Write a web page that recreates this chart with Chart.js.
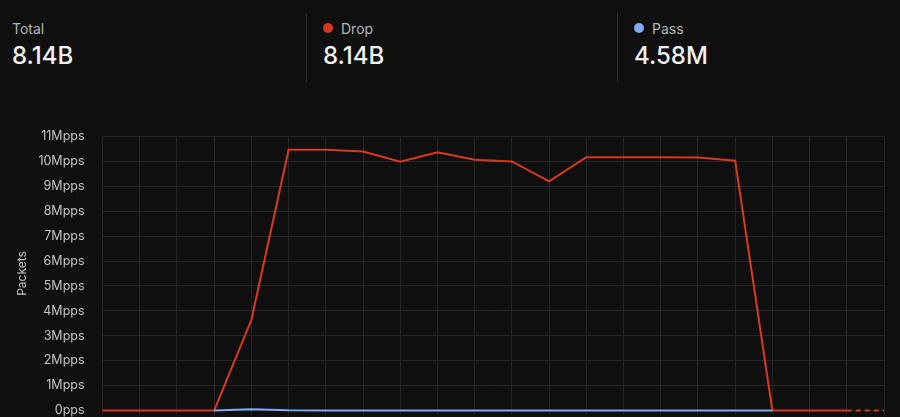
<!DOCTYPE html>
<html>
<head>
<meta charset="utf-8">
<script src="https://cdn.jsdelivr.net/npm/chart.js@4/dist/chart.umd.min.js"></script>
<style>
  html, body { margin: 0; padding: 0; background: #0f0f10; width: 900px; height: 417px; overflow: hidden; font-family: Inter, sans-serif; }
  .stat { position: absolute; top: 13px; height: 69px; }
  .stat .label { position: absolute; top: 7px; font-size: 14px; color: #b5b5b5; white-space: nowrap; }
  .stat .value { position: absolute; top: 31px; font-size: 24px; line-height: 1; font-weight: 500; color: #f2f2f2; white-space: nowrap; }
  .dot { position: absolute; top: 10px; width: 10px; height: 10px; border-radius: 50%; }
  .sep { position: absolute; top: 13px; width: 1px; height: 69px; background: #2c2c2e; }
  #wrap { position: absolute; left: 0; top: 129px; width: 900px; height: 289px; }
</style>
</head>
<body>
<div class="stat" style="left:12px"><div class="label" style="left:0">Total</div><div class="value" style="left:0">8.14B</div></div>
<div class="sep" style="left:306px"></div>
<div class="stat" style="left:323px"><div class="dot" style="left:0;background:#d8391e"></div><div class="label" style="left:18px">Drop</div><div class="value" style="left:0">8.14B</div></div>
<div class="sep" style="left:617px"></div>
<div class="stat" style="left:634px"><div class="dot" style="left:0;background:#7eaaf6"></div><div class="label" style="left:18px">Pass</div><div class="value" style="left:0">4.58M</div></div>
<div id="wrap"><canvas id="chart"></canvas></div>
<script>
// time buckets (no visible labels in the original)
const buckets = ['t0','t1','t2','t3','t4','t5','t6','t7','t8','t9','t10','t11','t12','t13','t14','t15','t16','t17','t18','t19','t20','t21'];
// packets per second
const dropPps = [0, 0, 0, 0, 3.64e6, 10.47e6, 10.47e6, 10.4e6, 9.99e6, 10.37e6, 10.07e6, 10.0e6, 9.2e6, 10.17e6, 10.17e6, 10.17e6, 10.16e6, 10.03e6, 0, 0, 0, 0];
const passPps = [null, null, null, 0, 0.05e6, 0.01e6, 0.005e6, 0.005e6, 0.005e6, 0.005e6, 0.005e6, 0.005e6, 0.005e6, 0.005e6, 0.005e6, 0.005e6, 0.005e6, 0.005e6, 0, null, null, null];
const yMax = 11e6;

const dashedFrom = buckets.length - 2;

new Chart(document.getElementById('chart'), {
  type: 'line',
  data: {
    labels: buckets,
    datasets: [
      {
        label: 'Pass',
        data: passPps,
        borderColor: '#7eaaf6',
        borderWidth: 2,
        pointRadius: 0,
        tension: 0,
        clip: false,
        order: 1
      },
      {
        label: 'Drop',
        data: dropPps,
        borderColor: '#d8391e',
        borderWidth: 2,
        pointRadius: 0,
        tension: 0,
        clip: false,
        order: 2,
        segment: {
          borderDash: ctx => ctx.p0DataIndex >= dashedFrom ? [5, 4] : undefined
        }
      }
    ]
  },
  options: {
    responsive: true,
    maintainAspectRatio: false,
    animation: false,
    layout: { padding: { left: 13, right: 16, top: 0, bottom: 0 } },
    plugins: { legend: { display: false }, tooltip: { enabled: false } },
    scales: {
      x: {
        ticks: { display: false },
        grid: { color: '#262627', lineWidth: 1, drawTicks: true, tickLength: 4 },
        border: { display: false },
        afterFit: s => { s.height = 4; }
      },
      y: {
        min: 0,
        max: yMax,
        ticks: {
          stepSize: 1e6,
          color: '#c4c4c4',
          padding: 0,
          font: { family: 'Inter', size: 12.5 },
          callback: v => v === 0 ? '0pps' : (v / 1e6) + 'Mpps'
        },
        grid: { color: '#262627', lineWidth: 1, drawTicks: true, tickLength: 18, tickColor: 'rgba(0,0,0,0)' },
        border: { display: false },
        title: { display: true, text: 'Packets', color: '#c4c4c4', font: { family: 'Inter', size: 12 }, padding: { top: 2, bottom: 9 } }
      }
    }
  }
});
</script>
</body>
</html>
